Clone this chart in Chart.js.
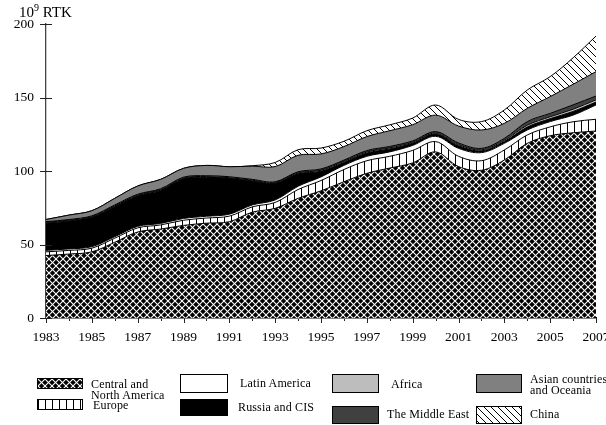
<!DOCTYPE html>
<html>
<head>
<meta charset="utf-8">
<script src="https://cdn.jsdelivr.net/npm/chart.js@4/dist/chart.umd.min.js"></script>
<style>
  html, body { margin: 0; padding: 0; background: #fff; }
  #wrap { position: relative; width: 606px; height: 425px; overflow: hidden; font-family: "Liberation Serif", serif; color: #000; }
  #c { position: absolute; left: 0; top: 0; }
  .t { position: absolute; white-space: nowrap; font-size: 12px; line-height: 11px; letter-spacing: 0.15px; }
  .sw { position: absolute; box-sizing: border-box; border: 1px solid #000; }
  #ytitle { position: absolute; left: 19px; top: 5px; font-size: 15px; line-height: 14px; white-space: nowrap; }
  #ytitle sup { font-size: 10px; vertical-align: 6px; line-height: 0; }
</style>
</head>
<body>
<div id="wrap">
  <canvas id="c" width="606" height="425"></canvas>
  <div id="ytitle">10<sup>9</sup> RTK</div>
  <div id="legend"></div>
</div>
<script>
const years = [1983,1984,1985,1986,1987,1988,1989,1990,1991,1992,1993,1994,1995,1996,1997,1998,1999,2000,2001,2002,2003,2004,2005,2006,2007];
const centralNorthAmerica = [42.5,43.5,45,51.5,58.5,60.5,63,64.5,65.5,72,74.6,81.4,86.5,92.7,98.4,102,105.5,113,103,100.5,107.5,118.8,124,126,127.2];
const europe = [2.5,2.5,2.5,2.8,2.8,2.8,3.5,3.5,3.8,3.6,4,6,7,8.3,8.6,8,8.5,7,7,6.5,6.8,5.7,6,7.5,8];
const latinAmerica = [1,1,1,1,1,1,1.2,1.2,1.3,1.3,1.7,2.2,2.5,2.8,3,3,3.4,3.6,5.4,5.5,4.5,3.4,3.6,4.5,9.7];
const russiaCIS = [18.5,19,20,20.5,20.8,22.5,27,26.5,24.4,16.3,11.3,8.5,3.8,2,2.2,2,1.5,1.6,1.8,1.2,1.3,2,2,2.5,2];
const africa = [0.5,0.5,0.5,0.5,0.5,0.5,0.5,0.5,0.5,0.5,0.5,0.6,0.7,0.7,0.7,0.7,0.6,0.6,0.7,0.7,0.8,1.2,1.3,1.5,1.5];
const middleEast = [0.5,0.5,0.5,0.6,0.6,0.6,0.6,0.6,0.6,0.6,0.6,0.8,0.9,0.9,1,1,1,1,1.2,1,1.3,2.5,2.3,3,2.6];
const asiaOceania = [1.5,3,3.5,4.5,5.6,6.4,6,7,6.8,9,10.3,11.2,10.2,9.2,9.5,10.7,11,11.2,11.5,12.5,10.2,9,11.4,14,16.6];
const china = [0,0,0,0,0,0,0,0,0,0.3,2.8,3.8,4,3.6,4,4,4.5,6.9,4.5,5.7,9.1,12.5,13.6,18,24.2];
const yTicks = [0,50,100,150,200];
const seriesNames = ["Central and North America","Europe","Latin America","Russia and CIS","Africa","The Middle East","Asian countries and Oceania","China"];

function tile(kind) {
  const c = document.createElement('canvas');
  const s = 7;
  c.width = s; c.height = s;
  const g = c.getContext('2d');
  if (kind === 'cross') {
    g.fillStyle = '#000'; g.fillRect(0,0,s,s);
    g.strokeStyle = '#fff'; g.lineWidth = 1.1;
    for (const o of [-s,0,s]) {
      g.beginPath(); g.moveTo(o,0); g.lineTo(o+s,s); g.stroke();
      g.beginPath(); g.moveTo(o+s,0); g.lineTo(o,s); g.stroke();
    }
  } else if (kind === 'vert') {
    g.fillStyle = '#fff'; g.fillRect(0,0,s,s);
    g.fillStyle = '#000'; g.fillRect(0,0,1,s);
  } else if (kind === 'diag') {
    g.fillStyle = '#fff'; g.fillRect(0,0,s,s);
    g.strokeStyle = '#000'; g.lineWidth = 1;
    for (const o of [-s,0,s]) {
      g.beginPath(); g.moveTo(o,0); g.lineTo(o+s,s); g.stroke();
    }
  }
  return c;
}
const ctx = document.getElementById('c').getContext('2d');
const tiles = { cross: tile('cross'), vert: tile('vert'), diag: tile('diag') };
const fills = [
  ctx.createPattern(tiles.cross, 'repeat'),
  ctx.createPattern(tiles.vert, 'repeat'),
  '#ffffff', '#000000', '#bdbdbd', '#404040', '#808080',
  ctx.createPattern(tiles.diag, 'repeat')
];
const cssFills = [
  'url(' + tiles.cross.toDataURL() + ')',
  'url(' + tiles.vert.toDataURL() + ')',
  '#ffffff', '#000000', '#bdbdbd', '#404040', '#808080',
  'url(' + tiles.diag.toDataURL() + ')'
];
const seriesData = [centralNorthAmerica, europe, latinAmerica, russiaCIS, africa, middleEast, asiaOceania, china];

const datasets = seriesData.map((d, i) => ({
  label: seriesNames[i],
  data: d,
  backgroundColor: fills[i],
  borderColor: '#000',
  borderWidth: 1,
  pointRadius: 0,
  tension: 0.35,
  fill: i === 0 ? 'origin' : '-1'
}));

const axisTicks = {
  id: 'axisTicks',
  afterDraw(chart) {
    const c = chart.ctx, x = chart.scales.x, y = chart.scales.y;
    c.save();
    c.strokeStyle = '#222'; c.lineWidth = 1;
    yTicks.forEach(v => {
      const py = Math.round(y.getPixelForValue(v)) + 0.5;
      c.beginPath(); c.moveTo(x.left - 6, py); c.lineTo(x.left + 6, py); c.stroke();
    });
    years.forEach((yr, i) => {
      const px = Math.round(x.getPixelForValue(i)) + 0.5;
      const major = yr % 2 === 1;
      c.beginPath();
      c.moveTo(px, y.bottom + (major ? 0 : 1));
      c.lineTo(px, y.bottom + (major ? 5 : 3));
      c.stroke();
    });
    c.restore();
  }
};

new Chart(ctx, {
  type: 'line',
  data: { labels: years.map(String), datasets },
  options: {
    responsive: false,
    animation: false,
    layout: { padding: { top: 24, right: 10, left: 0, bottom: 0 }, autoPadding: false },
    plugins: { legend: { display: false }, tooltip: { enabled: false } },
    scales: {
      x: {
        type: 'category', offset: false,
        grid: { display: false, drawTicks: false },
        border: { display: true, color: '#000', width: 1.5 },
        ticks: {
          autoSkip: false, maxRotation: 0, minRotation: 0, padding: 11, color: '#000',
          font: { family: 'Liberation Serif', size: 13.5 },
          callback: (v, i) => (years[i] % 2 === 1 ? String(years[i]) : '')
        },
        afterFit(s) { s.height = 107; s.paddingLeft = 0; s.paddingRight = 0; }
      },
      y: {
        stacked: true, min: 0, max: 200,
        grid: { display: false, drawTicks: false },
        border: { display: true, color: '#444', width: 1.3 },
        ticks: { stepSize: 50, padding: 12, color: '#000', font: { family: 'Liberation Serif', size: 13.5 } },
        afterFit(s) { s.width = 46; s.paddingTop = 0; s.paddingBottom = 0; }
      }
    }
  },
  plugins: [axisTicks]
});

const legendItems = [
  { i: 0, sw: [37, 378, 46, 11], lines: ["Central and", "North America"], tx: 91, ty: 379 },
  { i: 1, sw: [37, 399, 46, 11], lines: ["Europe"], tx: 93, ty: 400 },
  { i: 2, sw: [180, 374, 48, 19], lines: ["Latin America"], tx: 240, ty: 378 },
  { i: 3, sw: [180, 399, 48, 17], lines: ["Russia and CIS"], tx: 238, ty: 402 },
  { i: 4, sw: [332, 374, 47, 19], lines: ["Africa"], tx: 391, ty: 379 },
  { i: 5, sw: [332, 406, 47, 18], lines: ["The Middle East"], tx: 387, ty: 409 },
  { i: 6, sw: [476, 374, 46, 19], lines: ["Asian countries", "and Oceania"], tx: 530, ty: 374 },
  { i: 7, sw: [476, 406, 46, 18], lines: ["China"], tx: 530, ty: 409 }
];
const lg = document.getElementById('legend');
legendItems.forEach(it => {
  const s = document.createElement('div');
  s.className = 'sw';
  s.style.left = it.sw[0] + 'px'; s.style.top = it.sw[1] + 'px';
  s.style.width = it.sw[2] + 'px'; s.style.height = it.sw[3] + 'px';
  s.style.background = cssFills[it.i];
  lg.appendChild(s);
  it.lines.forEach((ln, k) => {
    const t = document.createElement('div');
    t.className = 't';
    t.style.left = it.tx + 'px';
    t.style.top = (it.ty + k * 11) + 'px';
    t.textContent = ln;
    lg.appendChild(t);
  });
});
</script>
</body>
</html>
